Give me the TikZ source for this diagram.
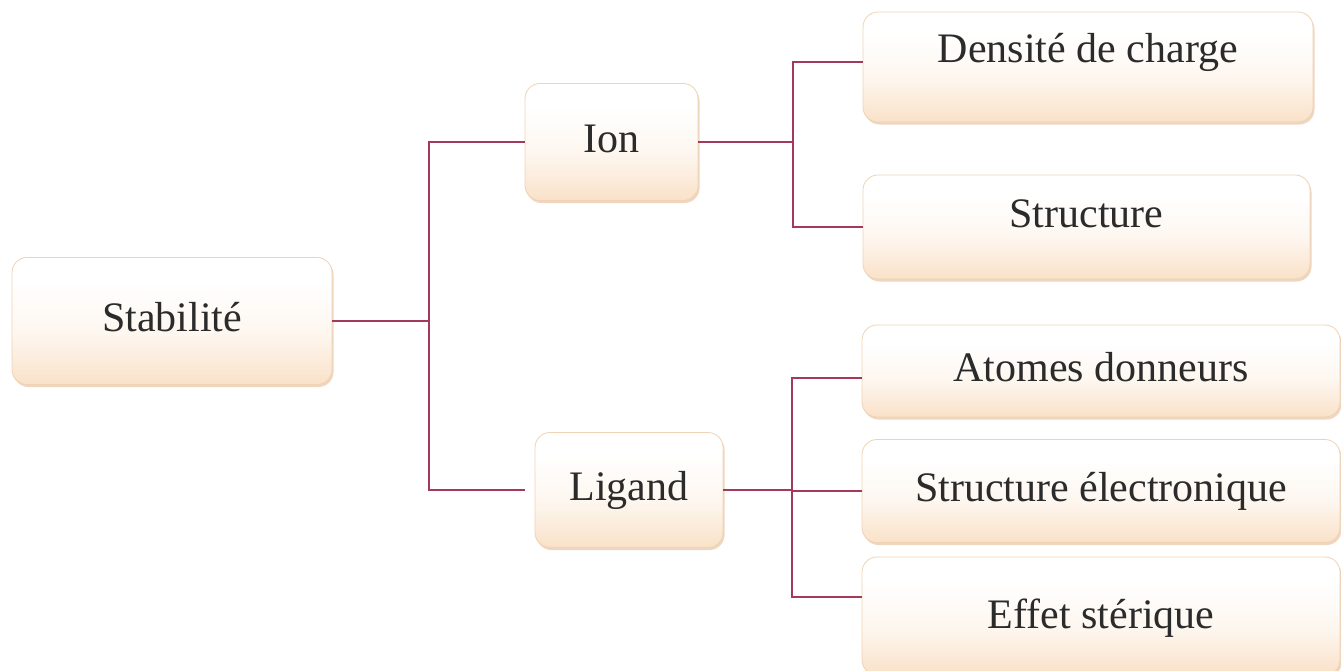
\documentclass[tikz,border=0pt]{standalone}
\usepackage{fontspec}
\setmainfont{Liberation Serif}
\usetikzlibrary{shadows}
\definecolor{peach}{HTML}{F6D0A8}
\definecolor{boxline}{HTML}{EFD3B4}
\definecolor{shadowc}{HTML}{E3BC96}
\definecolor{linkc}{HTML}{A33A5C}
\definecolor{txt}{HTML}{2B2B2B}
\pgfdeclareverticalshading{peachshade}{100bp}{color(0bp)=(peach); color(22bp)=(peach!70!white); color(45bp)=(peach!18!white); color(65bp)=(white); color(100bp)=(white)}
\tikzset{
  topicbox/.style={draw=boxline, line width=0.8pt, rounded corners=15pt,
    shading=peachshade,
    drop shadow={shadow xshift=1.5pt, shadow yshift=-2.5pt, fill=shadowc, opacity=0.6},
    inner sep=0pt, text=txt, font=\fontsize{42}{50}\selectfont,
    text height=30pt, text depth=10pt},
  raised/.style={text depth=40pt},
  link/.style={draw=linkc, line width=1.6pt}
}
\begin{document}
\begin{tikzpicture}[x=1pt,y=-1pt]
\clip (0,0) rectangle (1341,670);
\fill[white] (0,0) rectangle (1341,670);
% nodes
\node[topicbox, minimum width=320pt, minimum height=127pt] (stab) at (172,321) {Stabilité};
\node[topicbox, minimum width=173pt, minimum height=117pt] (ion) at (611.5,142) {Ion};
\node[topicbox, minimum width=188pt, minimum height=115pt] (lig) at (629,490) {Ligand};
\node[topicbox, raised, minimum width=450pt, minimum height=110pt] (dens) at (1088,67) {Densité de charge};
\node[topicbox, minimum width=447pt, minimum height=104pt, text depth=30pt] (struct) at (1086.5,227) {Structure};
\node[topicbox, minimum width=478pt, minimum height=92pt] (atom) at (1101,371) {Atomes donneurs};
\node[topicbox, minimum width=478pt, minimum height=103pt] (selec) at (1101,491) {Structure électronique};
\node[topicbox, minimum width=478pt, minimum height=118pt, text depth=6pt] (eff) at (1101,616) {Effet stérique};
% junctions
\coordinate (j1) at (429,321);
\coordinate (j2) at (793,142);
\coordinate (j3) at (792,490);
% connectors
\draw[link] (stab.east) -- (j1);
\draw[link] (ion.west) -| (j1);
\draw[link] ([xshift=-10pt]lig.west) -| (j1);
\draw[link] (ion.east) -- (j2);
\draw[link] ([yshift=5pt]dens.west) -| (j2);
\draw[link] (struct.west) -| (j2);
\draw[link] (lig.east) -- (j3);
\draw[link] ([yshift=-7pt]atom.west) -| (j3);
\draw[link] (selec.west) -| (j3);
\draw[link] ([yshift=19pt]eff.west) -| (j3);
\end{tikzpicture}
\end{document}
